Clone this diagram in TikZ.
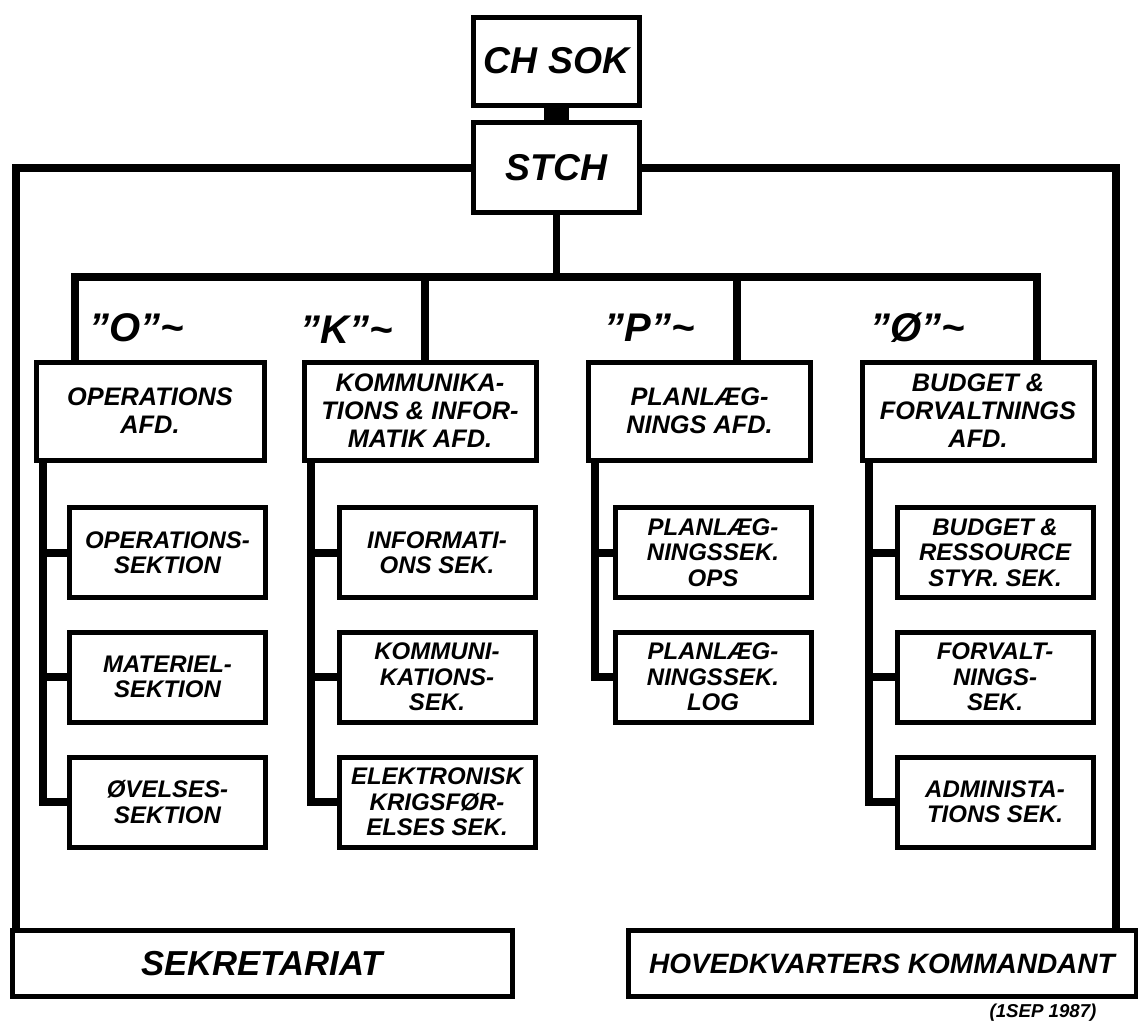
\documentclass[tikz,border=0pt]{standalone}
\usepackage{fontspec}
\setmainfont{Liberation Sans}

\tikzset{every picture/.style={line width=0.75pt}}
\tikzset{
  box/.style={draw, line width=3.75pt, fill=white, outer sep=0pt, inner sep=1pt, align=center},
  topbox/.style={box, minimum width=125pt, minimum height=66pt, font=\fontsize{28}{30}\selectfont\bfseries\itshape},
  afdbox/.style={box, minimum height=73.5pt, font=\fontsize{19}{21}\selectfont\bfseries\itshape},
  sekbox/.style={box, minimum width=147pt, minimum height=67.5pt, font=\fontsize{18}{19}\selectfont\bfseries\itshape},
  basebox/.style={box, minimum height=50pt},
  tag/.style={font=\fontsize{30}{32}\selectfont\bfseries\itshape, inner sep=0pt},
  bus/.style={line width=6pt},
}

\begin{document}
\begin{tikzpicture}[x=0.75pt,y=0.75pt,yscale=-1,xscale=1]
\path[use as bounding box, fill=white] (0,0) rectangle (1138,1026);

% Top
\node[topbox] (chsok) at (556.5,61) {CH SOK};
\node[topbox, minimum height=67pt] (stch) at (556.5,167.5) {STCH};

% Afdelinger
\node[afdbox, minimum width=171pt] (opafd) at (150,411) {OPERATIONS\\AFD.};
\node[afdbox, minimum width=174pt] (kafd) at (420,411) {KOMMUNIKA-\\TIONS \& INFOR-\\MATIK AFD.};
\node[afdbox, minimum width=167pt] (pafd) at (699.5,411) {PLANLÆG-\\NINGS AFD.};
\node[afdbox, minimum width=174pt] (oeafd) at (978,411) {BUDGET \&\\FORVALTNINGS\\AFD.};

% Text Node
\node[tag] (tago) at (137,328) {"O"\textasciitilde};
\node[tag] (tagk) at (347,330) {"K"\textasciitilde};
\node[tag] (tagp) at (650,328) {"P"\textasciitilde};
\node[tag] (tagoe) at (918,328) {"Ø"\textasciitilde};

% Sektioner
\node[sekbox] (ops1) at (167.5,552.5) {OPERATIONS-\\SEKTION};
\node[sekbox] (ops2) at (167.5,677) {MATERIEL-\\SEKTION};
\node[sekbox] (ops3) at (167.5,802) {ØVELSES-\\SEKTION};
\node[sekbox] (kom1) at (437,552.5) {INFORMATI-\\ONS SEK.};
\node[sekbox] (kom2) at (437,677) {KOMMUNI-\\KATIONS-\\SEK.};
\node[sekbox] (kom3) at (437,802) {ELEKTRONISK\\KRIGSFØR-\\ELSES SEK.};
\node[sekbox] (pla1) at (713,552.5) {PLANLÆG-\\NINGSSEK.\\OPS};
\node[sekbox] (pla2) at (713,677) {PLANLÆG-\\NINGSSEK.\\LOG};
\node[sekbox] (oek1) at (995,552.5) {BUDGET \&\\RESSOURCE\\STYR. SEK.};
\node[sekbox] (oek2) at (995,677) {FORVALT-\\NINGS-\\SEK.};
\node[sekbox] (oek3) at (995,802) {ADMINISTA-\\TIONS SEK.};

% Bottom
\node[basebox, minimum width=375pt, font=\fontsize{26}{28}\selectfont\bfseries\itshape] (sekr) at (262,963.5) {SEKRETARIAT};
\node[basebox, minimum width=381pt, font=\fontsize{21}{23}\selectfont\bfseries\itshape] (hk) at (882,963.5) {HOVEDKVARTERS KOMMANDANT};
\node[font=\fontsize{14}{15}\selectfont\bfseries\itshape, inner sep=0pt] (dato) at (1043,1013) {(1SEP 1987)};

% Lines
\coordinate (jo) at (75,277);
\coordinate (jk) at (425,277);
\coordinate (jp) at (737,277);
\coordinate (joe) at (1037,277);

\draw[line width=18.75pt] (chsok.south) -- (stch.north);
\draw[line width=5pt] (stch.south) -- (stch.south |- jo);
\draw[bus] (jo |- opafd.north) -- (jo) -- (joe) -- (joe |- oeafd.north);
\draw[bus] (jk) -- (jk |- kafd.north);
\draw[bus] (jp) -- (jp |- pafd.north);

\draw[bus] (stch.west) -| ([xshift=3pt]sekr.north west);
\draw[bus] (stch.east) -| ([xshift=-15pt]hk.north east);

% Stems
\foreach \afd/\last in {opafd/ops3, kafd/kom3, pafd/pla2, oeafd/oek3}{
  \coordinate (\afd-stem) at ([xshift=5pt]\afd.south west);
  \draw[bus] (\afd-stem) |- (\last.west);
}
\foreach \afd/\sek in {opafd/ops1, opafd/ops2, kafd/kom1, kafd/kom2, pafd/pla1, oeafd/oek1, oeafd/oek2}
  \draw[bus] (\afd-stem |- \sek.west) -- (\sek.west);

\end{tikzpicture}
\end{document}
